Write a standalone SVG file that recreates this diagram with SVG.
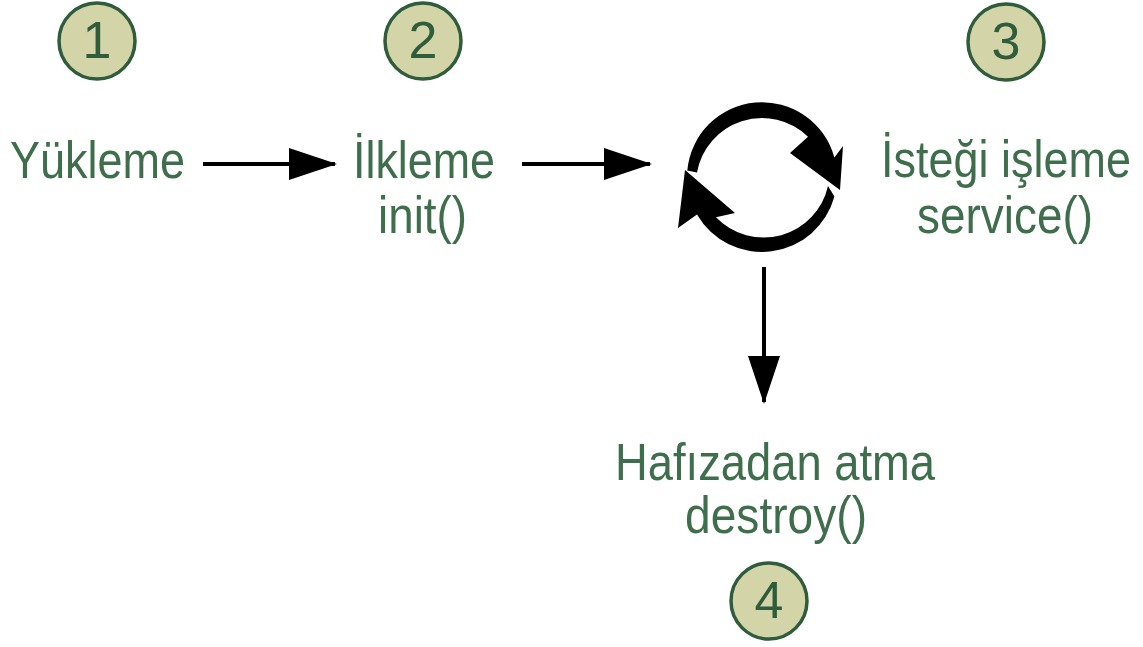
<svg xmlns="http://www.w3.org/2000/svg" width="1143" height="647" viewBox="0 0 1143 647">
<style>
.badge circle{fill:#d4d4a9;stroke:#2f5c3a;stroke-width:3.5}
.badge text{font-family:"Liberation Sans",Arial,sans-serif;font-size:52px;fill:#2f5c3a;text-anchor:middle}
.lbl{font-family:"Liberation Sans",Arial,sans-serif;font-size:52px;fill:#3f6e4c}
.conn line{stroke:#000;stroke-width:4}
.cyc path{fill:#000;stroke:none}
</style>
<defs>
<marker id="ah" viewBox="0 0 48 32" refX="46" refY="16" markerWidth="48" markerHeight="32" markerUnits="userSpaceOnUse" orient="auto">
<path d="M0,0 L48,16 L0,32 Z" fill="#000"/>
</marker>
</defs>
<g id="n1">
<g class="badge"><circle cx="97" cy="41" r="38"/><text x="97" y="58">1</text></g>
<text class="lbl" x="10" y="178" textLength="175" lengthAdjust="spacingAndGlyphs">Yükleme</text>
</g>
<g id="n2">
<g class="badge"><circle cx="423" cy="41" r="38"/><text x="423" y="58">2</text></g>
<text class="lbl" x="353" y="178" textLength="142" lengthAdjust="spacingAndGlyphs">İlkleme</text>
<text class="lbl" x="378" y="233" textLength="89" lengthAdjust="spacingAndGlyphs">init()</text>
</g>
<g id="n3">
<g class="badge"><circle cx="1006" cy="42" r="38"/><text x="1006" y="59">3</text></g>
<text class="lbl" transform="translate(881,177) scale(0.865,1)" x="0" y="0">İsteği işleme</text>
<text class="lbl" x="917" y="233" textLength="176" lengthAdjust="spacingAndGlyphs">service()</text>
</g>
<g id="n4">
<g class="badge"><circle cx="769" cy="601" r="38"/><text x="769" y="618">4</text></g>
<text class="lbl" x="615" y="480" textLength="320" lengthAdjust="spacingAndGlyphs">Hafızadan atma</text>
<text class="lbl" x="685" y="533" textLength="182" lengthAdjust="spacingAndGlyphs">destroy()</text>
</g>
<g id="cycle" class="cyc">
<path d="M687.3,170.5 A75,75 0 0 1 834.4,157.6 L843,146 L840,190 L790,153 L808,136.7 A66,66 0 0 0 697,172.6 Z"/>
<path d="M834.4,196.4 A75,75 0 0 1 697,214.5 L678,228 L685,170 L735,213 L716,217.3 A66,66 0 0 0 828,186 Z"/>
</g>
<g id="connectors" class="conn">
<line x1="203" y1="164" x2="335" y2="164" marker-end="url(#ah)"/>
<line x1="522" y1="164" x2="650" y2="164" marker-end="url(#ah)"/>
<line x1="764" y1="267" x2="764" y2="402" marker-end="url(#ah)"/>
</g>
</svg>
